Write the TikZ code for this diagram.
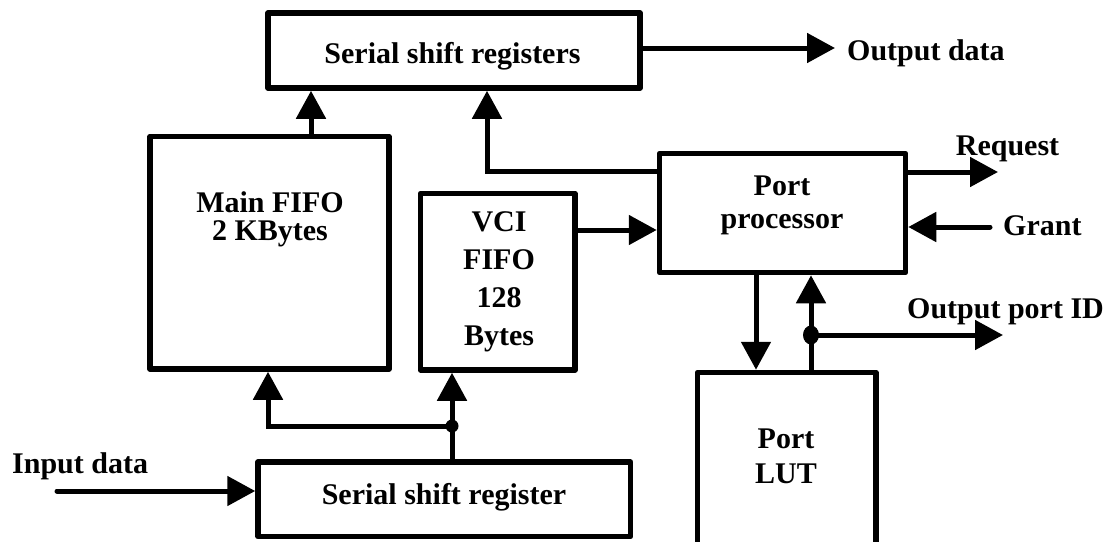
\documentclass[tikz,border=0pt]{standalone}
\usepackage{fontspec}
\setmainfont{Liberation Serif}
\usetikzlibrary{arrows.meta}

\begin{document}
\begin{tikzpicture}[x=1pt,y=-1pt,
  blk/.style={draw, line width=5.5pt, line join=round, inner sep=0pt},
  arr/.style={line width=5pt, line cap=round, -{Triangle[length=28pt,width=29pt]}},
  lbl/.style={inner sep=0pt, align=center, anchor=base,
    font=\fontsize{30}{30}\selectfont\bfseries},
  side/.style={lbl, anchor=base west}
]
\path[use as bounding box, clip] (0,0) rectangle (1106,541);

% blocks
\node[blk, minimum width=372pt, minimum height=75pt]   (ssrs)     at (454,50.5)    {};
\node[blk, minimum width=239pt, minimum height=232.5pt] (mainfifo) at (269.5,252.75) {};
\node[blk, minimum width=154.5pt, minimum height=176.5pt] (vci)    at (497.75,281.75) {};
\node[blk, minimum width=246pt, minimum height=119pt]  (pp)       at (782.5,213)   {};
\node[blk, minimum width=178.5pt, minimum height=175.5pt] (lut)    at (786.75,460.25) {};
\node[blk, minimum width=372.5pt, minimum height=74.5pt] (ssr)     at (444.25,499.25) {};

% block labels (multi-line labels are placed by the baseline of their last line)
\node[lbl] (ssrsT) at (452.5,63) {Serial shift registers};
\node[lbl, font=\fontsize{30}{27.5}\selectfont\bfseries] (mainfifoT) at (270,240) {Main FIFO\\2 KBytes};
\node[lbl, font=\fontsize{30}{37.7}\selectfont\bfseries] (vciT) at (499,345) {VCI\\FIFO\\128\\Bytes};
\node[lbl, font=\fontsize{30}{33}\selectfont\bfseries] (ppT) at (782,228) {Port\\processor};
\node[lbl, font=\fontsize{30}{35}\selectfont\bfseries] (lutT) at (786,483) {Port\\LUT};
\node[lbl] (ssrT) at (444,504) {Serial shift register};

% external signal labels
\node[side] (outdata) at (847,60)  {Output data};
\node[lbl]  (request) at (1007.5,155) {Request};
\node[side] (grant)   at (1003,235) {Grant};
\node[side] (portid)  at (907,318) {Output port ID};
\node[side] (indata)  at (12,473)  {Input data};

% free ends and junctions
\coordinate (inStart)  at (57,491);
\coordinate (outEnd)   at (835,48);
\coordinate (reqEnd)   at (998,172);
\coordinate (grStart)  at (990,227);
\coordinate (idEnd)    at (1003,335);
\coordinate (jIn)      at (452,426);
\coordinate (jLut)     at (811,335);

% data path
\draw[arr] (inStart) -- (ssr.west |- inStart);
\draw[arr] (452,0 |- ssr.north) -- (452,0 |- vci.south);
\draw[arr] (jIn) -| (268,0 |- mainfifo.south);
\draw[arr] (311,0 |- mainfifo.north) -- (311,0 |- ssrs.south);
\draw[arr] (ssrs.east |- outEnd) -- (outEnd);

% control path
\draw[arr] (vci.east |- 0,230) -- (pp.west |- 0,230);
\draw[arr] (pp.west |- 0,171) -| (487,0 |- ssrs.south);
\draw[arr] (pp.east |- reqEnd) -- (reqEnd);
\draw[arr] (grStart) -- (pp.east |- grStart);
\draw[arr] (756,0 |- pp.south) -- (756,0 |- lut.north);
\draw[arr] (811,0 |- lut.north) -- (811,0 |- pp.south);
\draw[arr] (jLut) -- (idEnd);

% junction dots
\fill (jIn)  circle[radius=6.5pt];
\fill (jLut) circle[x radius=8pt, y radius=9.5pt];
\end{tikzpicture}
\end{document}
